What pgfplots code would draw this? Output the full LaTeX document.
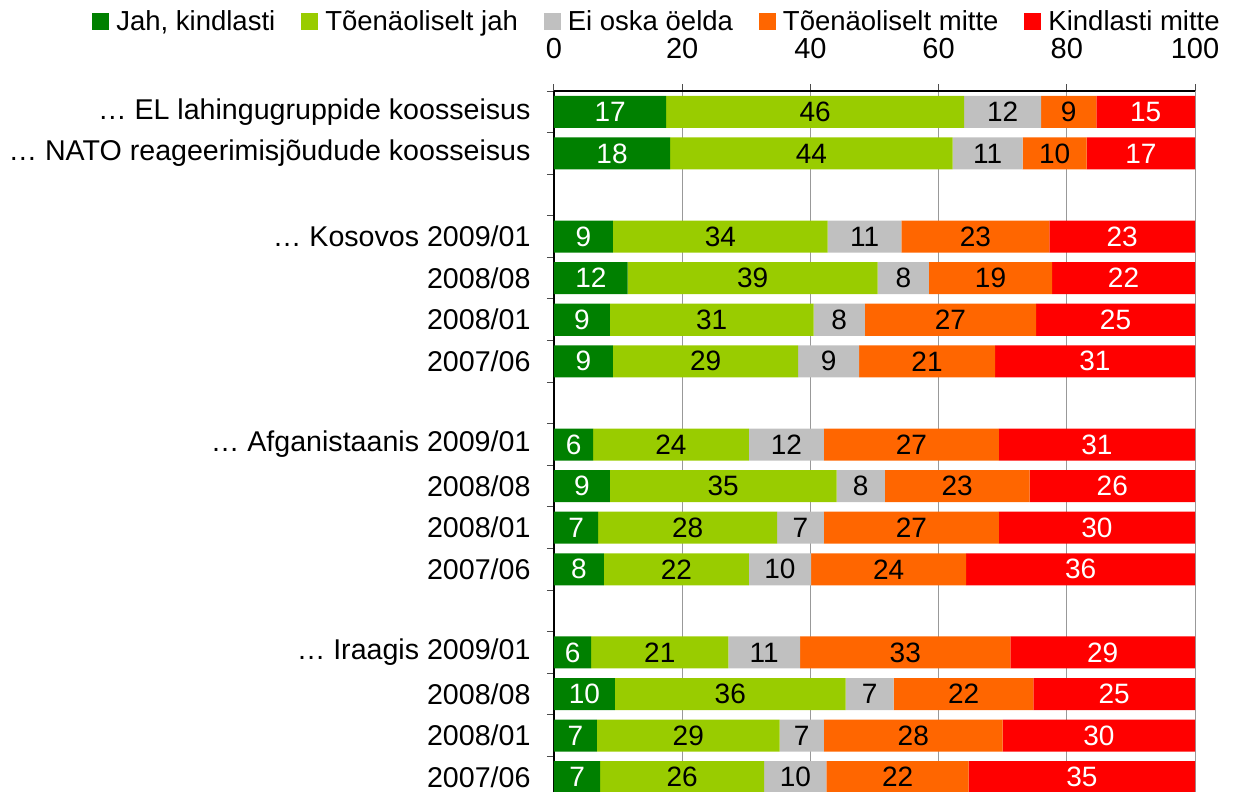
\documentclass[border=0pt]{standalone}
\usepackage{pgfplots}
\usepackage{pgfplotstable}
\pgfplotsset{compat=1.18}
\usepackage{fontspec}
\setmainfont{Liberation Sans}
\definecolor{cA}{HTML}{008000}
\definecolor{cB}{HTML}{99CC00}
\definecolor{cC}{HTML}{C0C0C0}
\definecolor{cD}{HTML}{FF6600}
\definecolor{cE}{HTML}{FF0000}
\pgfplotstableread{
y a b c d e la lb lc ld le
0 17.5 46.5 12.0 8.6 15.4 17 46 12 9 15
1 18.1 44.1 10.9 10.0 16.9 18 44 11 10 17
3 9.2 33.5 11.5 23.1 22.7 9 34 11 23 23
4 11.5 39.0 8.0 19.2 22.3 12 39 8 19 22
5 8.7 31.8 8.0 26.7 24.8 9 31 8 27 25
6 9.2 28.9 9.5 21.2 31.2 9 29 9 21 31
8 6.1 24.3 11.7 27.3 30.6 6 24 12 27 31
9 8.7 35.4 7.5 22.6 25.8 9 35 8 23 26
10 6.9 27.9 7.3 27.3 30.6 7 28 7 27 30
11 7.8 22.6 9.7 24.2 35.7 8 22 10 24 36
13 5.8 21.4 11.2 32.8 28.8 6 21 11 33 29
14 9.5 36.0 7.5 21.8 25.2 10 36 7 22 25
15 6.7 28.5 6.9 27.9 30.0 7 29 7 28 30
16 7.2 25.6 9.7 22.2 35.3 7 26 10 22 35
}\data
\newcommand{\fs}[1]{\fontsize{#1}{#1}\selectfont}
\pgfplotsset{
  midlabel/.style={
    nodes near coords,
    point meta=explicit symbolic,
    every node near coord/.append style={anchor=center, text=#1, font=\fs{28bp}},
  },
}
\begin{document}
\begin{tikzpicture}
\path[use as bounding box] (-554bp,91bp) rectangle (679bp,-701bp);
\begin{axis}[
  at={(0,0)}, anchor=north west,
  scale only axis, width=641bp, height=707bp,
  xbar stacked, bar width=0.77,
  xmin=0, xmax=100, ymin=-0.5, ymax=16.5, y dir=reverse,
  axis x line*=top, axis y line*=left,
  axis line style={-, black, line width=1.1bp},
  xtick={0,20,...,100},
  xticklabel style={font=\fs{29bp}, yshift=22bp},
  /pgf/number format/assume math mode=true,
  xmajorgrids, major grid style={color=black!40, line width=0.8bp},
  tick align=outside, major tick length=7bp,
  tick style={black!70, line width=1bp},
  ytick={-0.5,0.5,...,16.5}, yticklabels={},
  extra y ticks={0,1,3,4,5,6,8,9,10,11,13,14,15,16},
  extra y tick labels={{… EL lahingugruppide koosseisus},{… NATO reageerimisjõudude koosseisus},{… Kosovos 2009/01},2008/08,2008/01,2007/06,{… Afganistaanis 2009/01},2008/08,2008/01,2007/06,{… Iraagis 2009/01},2008/08,2008/01,2007/06},
  extra y tick style={major tick length=0pt, yticklabel style={font=\fs{28.6bp}, xshift=-20bp}},
  legend columns=-1,
  legend style={at={(0.1607,1.099)}, anchor=center, draw=none, fill=none, font=\fs{27.5bp},
    /tikz/every even column/.append style={column sep=24bp},
    /tikz/every odd column/.append style={column sep=5bp}},
  legend image code/.code={\fill[#1] (0bp,-8.5bp) rectangle (17bp,8.5bp);},
]
\addplot[fill=cA, draw=none, midlabel=white] table[x=a, y=y, meta=la] {\data};
\addplot[fill=cB, draw=none, midlabel=black] table[x=b, y=y, meta=lb] {\data};
\addplot[fill=cC, draw=none, midlabel=black] table[x=c, y=y, meta=lc] {\data};
\addplot[fill=cD, draw=none, midlabel=black] table[x=d, y=y, meta=ld] {\data};
\addplot[fill=cE, draw=none, midlabel=white] table[x=e, y=y, meta=le] {\data};
\legend{{Jah, kindlasti}, Tõenäoliselt jah, Ei oska öelda, Tõenäoliselt mitte, Kindlasti mitte}
\end{axis}
\end{tikzpicture}
\end{document}
